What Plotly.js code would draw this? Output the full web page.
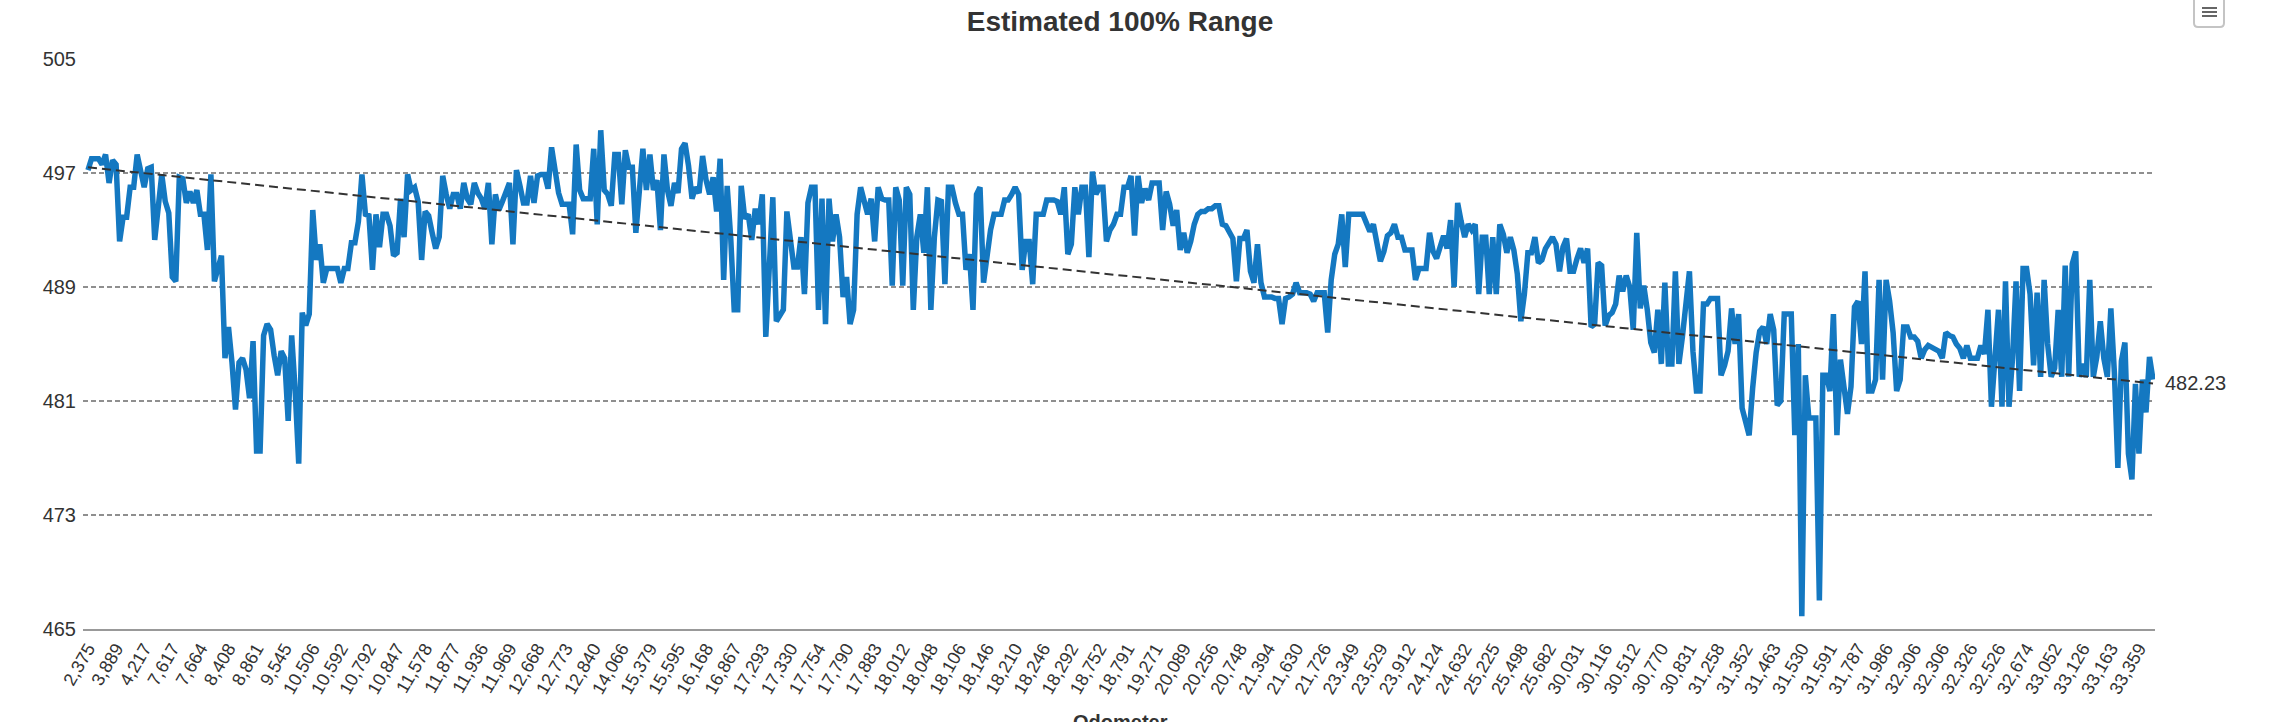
<!DOCTYPE html>
<html>
<head>
<meta charset="utf-8">
<script src="https://cdn.plot.ly/plotly-3.0.1.min.js"></script>
<style>
  html, body { margin: 0; padding: 0; background: #ffffff; }
  #chart { width: 2272px; height: 722px; }
</style>
</head>
<body>
<div id="chart"></div>
<script>
// Tick labels shown on the odometer (category) axis, one every 8 readings
const odometerLabels = [
  "2,375","3,889","4,217","7,617","7,664","8,408","8,861","9,545","10,506","10,592",
  "10,792","10,847","11,578","11,877","11,936","11,969","12,668","12,773","12,840","14,066",
  "15,379","15,595","16,168","16,867","17,293","17,330","17,754","17,790","17,883","18,012",
  "18,048","18,106","18,146","18,210","18,246","18,292","18,752","18,791","19,271","20,089",
  "20,256","20,748","21,394","21,630","21,726","23,349","23,529","23,912","24,124","24,632",
  "25,225","25,498","25,682","30,031","30,116","30,512","30,770","30,831","31,258","31,352",
  "31,463","31,530","31,591","31,787","31,986","32,306","32,306","32,326","32,526","32,674",
  "33,052","33,126","33,163","33,359"
];
const labelEvery = 8;

// Estimated 100% range per reading
const rangeValues = [
  497.2,498.0,498.0,498.0,497.6,498.3,496.3,497.9,497.6,492.2,
  493.9,493.9,496.0,496.0,498.3,497.0,496.0,497.3,497.4,492.3,
  494.6,496.9,495.0,494.2,489.7,489.4,496.7,496.6,494.9,495.7,
  494.9,495.8,494.1,494.1,491.6,496.9,489.4,490.3,491.2,484.0,
  486.2,483.7,480.4,483.7,484.0,483.2,481.2,485.2,477.5,477.5,
  485.6,486.4,486.0,484.2,482.8,484.5,484.0,479.6,485.6,481.7,
  476.6,487.2,486.3,487.1,494.4,490.9,492.0,489.3,490.3,490.3,
  490.3,490.3,489.3,490.3,490.3,492.1,492.1,493.6,496.9,494.1,
  494.0,490.2,494.1,491.8,494.1,494.1,493.3,491.2,491.4,495.2,
  492.5,496.9,495.8,496.0,495.0,490.9,494.3,494.0,492.8,491.7,
  492.5,496.8,495.5,494.5,495.5,495.5,494.5,496.3,495.2,494.8,
  496.3,495.6,495.2,494.5,496.3,492.0,495.5,494.4,495.0,495.6,
  496.3,492.0,497.2,496.1,494.9,494.9,496.8,494.9,496.8,496.9,
  496.9,495.9,498.8,497.2,495.6,494.8,494.8,494.8,492.7,499.0,
  495.8,495.2,495.2,495.2,498.7,493.4,500.0,495.8,495.5,494.7,
  498.3,498.3,494.8,498.6,497.4,497.4,492.8,495.7,498.7,495.8,
  498.3,495.8,496.5,493.0,498.3,495.8,494.7,496.3,495.6,498.7,
  499.1,497.5,495.2,496.0,495.6,498.2,496.5,495.5,496.7,494.3,
  498.0,489.5,496.1,492.5,487.4,487.4,496.1,493.8,494.1,492.3,
  494.5,493.4,495.5,485.5,491.2,495.3,486.6,487.0,487.4,494.3,
  492.0,490.4,490.4,492.5,488.5,494.9,496.0,496.0,487.4,495.2,
  486.4,495.2,492.2,494.1,492.5,488.3,489.7,486.4,487.4,494.1,
  496.0,495.2,494.1,495.2,492.2,496.0,495.2,495.1,495.1,489.1,
  496.0,495.1,489.1,496.0,495.5,487.4,492.5,494.1,491.4,496.0,
  487.4,492.5,495.1,495.0,489.2,496.0,496.0,494.9,494.1,494.1,
  490.2,491.3,487.4,495.5,496.0,489.3,491.4,493.0,494.1,494.1,
  494.1,495.1,495.1,495.5,496.0,495.5,490.2,492.2,492.2,489.2,
  494.1,494.1,494.1,495.1,495.1,495.1,495.0,494.1,496.0,491.3,
  492.0,496.0,494.1,496.0,496.0,491.1,497.1,495.5,496.0,496.0,
  492.2,493.0,493.4,494.1,494.1,496.0,496.0,496.8,492.6,496.8,
  494.9,495.9,495.1,496.3,496.3,496.3,493.0,495.7,494.8,493.3,
  494.4,491.6,492.8,491.4,492.2,493.4,494.1,494.3,494.3,494.5,
  494.5,494.7,494.7,493.4,493.3,492.8,492.4,489.4,492.4,492.4,
  493.0,490.1,489.3,492.0,489.3,488.3,488.3,488.3,488.2,488.2,
  486.4,488.2,488.3,488.5,489.3,488.6,488.6,488.6,488.5,488.0,
  488.6,488.6,488.6,485.8,489.5,491.3,492.0,494.1,490.4,494.1,
  494.1,494.1,494.1,494.1,493.5,492.9,493.4,492.3,490.8,491.5,
  492.6,492.8,493.4,492.5,492.5,491.6,491.6,491.6,489.5,490.3,
  490.3,490.3,492.8,491.5,491.0,491.8,492.6,491.7,493.7,489.0,
  494.9,493.6,492.5,493.4,493.0,493.4,488.5,492.5,492.5,488.5,
  492.5,488.5,493.4,492.7,491.4,492.5,491.6,489.9,486.6,488.5,
  491.4,491.4,492.5,490.7,490.9,491.7,492.2,492.5,492.0,490.1,
  491.8,492.4,490.1,490.1,491.0,491.7,490.7,491.7,486.2,486.4,
  490.7,490.5,486.3,487.0,487.2,487.8,489.8,488.7,489.8,489.0,
  486.0,492.8,487.5,489.1,487.4,485.1,484.4,487.4,483.6,489.3,
  483.6,483.6,490.1,483.6,485.5,487.8,490.1,484.5,481.7,481.7,
  487.8,487.8,488.2,488.2,488.2,482.8,483.5,484.5,487.5,485.0,
  487.1,480.5,479.5,478.6,481.9,484.4,485.9,486.2,485.0,487.1,
  486.0,480.7,481.0,487.1,487.1,487.1,478.6,485.0,465.9,482.8,
  479.8,479.8,479.8,467.0,482.8,482.8,481.7,487.1,478.6,483.9,
  481.7,480.1,482.0,487.6,488.0,485.0,490.1,481.7,481.7,482.5,
  489.5,482.5,489.5,488.0,485.8,481.7,482.5,486.2,486.2,485.5,
  485.5,485.2,484.0,484.6,484.9,484.8,484.7,484.5,484.0,485.8,
  485.6,485.5,485.0,484.7,484.0,484.9,484.0,484.0,484.0,484.9,
  484.3,487.4,480.6,484.0,487.4,480.6,489.4,480.6,484.0,489.4,
  481.7,490.3,490.3,488.5,483.5,488.6,482.7,489.5,485.0,482.7,
  483.3,487.4,482.7,490.5,482.7,490.6,491.5,482.7,483.6,482.7,
  489.5,482.7,484.1,486.6,484.0,482.7,487.5,483.0,476.3,483.8,
  485.1,477.3,475.5,482.2,477.3,482.5,480.2,484.1,482.5
];

// Linear trend line end values
const trendStart = 497.4;
const trendEnd = 482.23;

// Y axis ticks
const yTicks = [465, 473, 481, 489, 497, 505];

const xIdx = rangeValues.map((_, i) => i);
const lastIdx = rangeValues.length - 1;
const tickVals = odometerLabels.map((_, j) => j * labelEvery);

const FONT = "Liberation Sans, Arial, Helvetica, sans-serif";

const traces = [
  {
    type: "scatter", mode: "lines",
    x: xIdx, y: rangeValues,
    line: { color: "rgb(20,120,193)", width: 5.5, shape: "linear" },
    hoverinfo: "skip", showlegend: false
  },
  {
    type: "scatter", mode: "lines",
    x: [0, lastIdx], y: [trendStart, trendEnd],
    line: { color: "#333333", width: 2, dash: "9px,5px" },
    hoverinfo: "skip", showlegend: false
  }
];

// pixel -> paper helpers for decorations outside plot area
const L = 83, R = 2155, T = 59, B = 629;
const px = v => (v - L) / (R - L);
const py = v => (B - v) / (B - T);

const btnX0 = px(2194), btnX1 = px(2224), btnYT = py(-4), btnYB = py(27);
const rx = 4 / (R - L), ry = 4 / (B - T);
const btnPath = `M ${btnX0},${btnYT} L ${btnX0},${btnYB + ry} Q ${btnX0},${btnYB} ${btnX0 + rx},${btnYB} ` +
                `L ${btnX1 - rx},${btnYB} Q ${btnX1},${btnYB} ${btnX1},${btnYB + ry} L ${btnX1},${btnYT}`;

const shapes = [
  { type: "path", xref: "paper", yref: "paper", path: btnPath,
    line: { color: "#c4c4c4", width: 2 }, fillcolor: "#ffffff", layer: "above" }
];
[8, 12, 16].forEach(yy => {
  shapes.push({ type: "line", xref: "paper", yref: "paper",
    x0: px(2202), x1: px(2217), y0: py(yy), y1: py(yy),
    line: { color: "#666666", width: 2 }, layer: "above" });
});

const layout = {
  width: 2272, height: 722,
  margin: { l: L, r: 2272 - R, t: T, b: 722 - B, pad: 0 },
  paper_bgcolor: "#ffffff", plot_bgcolor: "#ffffff",
  font: { family: FONT, color: "#333333" },
  title: {
    text: "Estimated 100% Range",
    font: { family: FONT, size: 28, color: "#333333", weight: "bold" },
    xref: "container", x: 1120 / 2272, xanchor: "center",
    yref: "container", y: 1 - 21 / 722, yanchor: "middle"
  },
  xaxis: {
    type: "linear",
    range: [-5 / 3.51, lastIdx + 2 / 3.51],
    tickmode: "array", tickvals: tickVals, ticktext: odometerLabels,
    tickangle: -60,
    tickfont: { family: FONT, size: 18, color: "#333333" },
    showgrid: false, zeroline: false,
    showline: true, linecolor: "#999999", linewidth: 2,
    ticks: "", fixedrange: true
  },
  yaxis: {
    range: [465, 505],
    tickmode: "array", tickvals: yTicks,
    tickfont: { family: FONT, size: 20, color: "#333333" },
    showgrid: true, gridcolor: "#8f8f8f", gridwidth: 2, griddash: "5px,3px",
    zeroline: false, showline: false, ticks: "",
    ticklabelstandoff: 6, fixedrange: true
  },
  shapes: shapes,
  annotations: [
    { xref: "paper", x: 1, xanchor: "left", xshift: 8,
      yref: "y", y: trendEnd, yanchor: "middle",
      text: trendEnd.toFixed(2), showarrow: false,
      font: { family: FONT, size: 20, color: "#333333" } },
    { xref: "paper", x: px(1120), xanchor: "center",
      yref: "paper", y: py(709), yanchor: "top",
      text: "Odometer", showarrow: false,
      font: { family: FONT, size: 20, color: "#333333", weight: "bold" } }
  ],
  showlegend: false
};

Plotly.newPlot("chart", traces, layout, { displayModeBar: false, staticPlot: true });
</script>
</body>
</html>
